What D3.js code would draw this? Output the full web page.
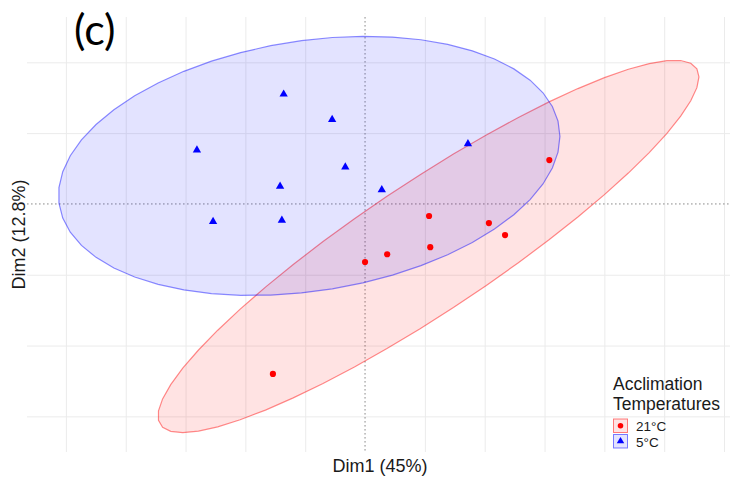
<!DOCTYPE html>
<html>
<head>
<meta charset="utf-8">
<script src="https://cdn.jsdelivr.net/npm/d3@7"></script>
<style>
  body { margin: 0; background: #fff; }
  svg { display: block; }
</style>
</head>
<body>
<div id="chart"></div>
<script>
// individuals on the first two PCA dimensions
var warmX = [0.00, 0.37, 1.09, 1.07, 2.07, 2.34, 3.08, -1.54];
var warmY = [-0.82, -0.71, -0.61, -0.17, -0.27, -0.44, 0.62, -2.40];
var coldX = [-1.36, -0.55, -2.81, -0.33, -1.42, -2.54, -1.39, 1.72, 0.28];
var coldY = [1.55, 1.19, 0.76, 0.52, 0.25, -0.25, -0.23, 0.85, 0.20];

var groups = ["21°C", "5°C"];
var groupColors = ["#ff0000", "#0000ff"];
var xGrid = [-5, -4, -3, -2, -1, 0, 1, 2, 3, 4, 5, 6];
var yGrid = [-3, -2, -1, 0, 1, 2];

var width = 730, height = 479;
var panel = {left: 27, right: 733, top: 17, bottom: 452};

var svg = d3.select("#chart").append("svg")
    .attr("width", width)
    .attr("height", height);

var x = d3.scaleLinear().domain([-5.65, 6.15]).range([panel.left, panel.right]);
var y = d3.scaleLinear().domain([-3.503, 2.64]).range([panel.bottom, panel.top]);

// grid
var g = svg.append("g");
g.append("g")
    .attr("transform", "translate(0," + panel.bottom + ")")
    .call(d3.axisBottom(x).tickValues(xGrid).tickSize(-(panel.bottom - panel.top)).tickFormat(""))
    .call(function(a) { a.select(".domain").remove(); });
g.append("g")
    .attr("transform", "translate(" + panel.left + ",0)")
    .call(d3.axisLeft(y).tickValues(yGrid).tickSize(-(panel.right - panel.left)).tickFormat(""))
    .call(function(a) { a.select(".domain").remove(); });
g.selectAll(".tick line")
    .attr("stroke", "#ebebeb")
    .attr("stroke-width", 1);
// zero lines are drawn dashed separately
g.selectAll(".tick").filter(function(d) { return d === 0; }).remove();

g.append("line")
    .attr("x1", x(0)).attr("x2", x(0))
    .attr("y1", panel.top).attr("y2", panel.bottom)
    .attr("stroke", "#8c8c8c").attr("stroke-dasharray", "1.6,2.4");
g.append("line")
    .attr("x1", panel.left).attr("x2", panel.right)
    .attr("y1", y(0)).attr("y2", y(0))
    .attr("stroke", "#8c8c8c").attr("stroke-dasharray", "1.6,2.4");

// normal-theory 95% ellipse like stat_ellipse(type = "norm")
function ellipse(xs, ys, level) {
  var n = xs.length;
  var mx = d3.mean(xs), my = d3.mean(ys);
  var a = 0, b = 0, c = 0;
  for (var i = 0; i < n; i++) {
    a += (xs[i] - mx) * (xs[i] - mx);
    b += (xs[i] - mx) * (ys[i] - my);
    c += (ys[i] - my) * (ys[i] - my);
  }
  a /= n - 1; b /= n - 1; c /= n - 1;
  var dfd = n - 1;
  var f = (dfd / 2) * (Math.pow(1 - level, -2 / dfd) - 1);
  var radius = Math.sqrt(2 * f);
  var r11 = Math.sqrt(a), r12 = b / r11, r22 = Math.sqrt(c - r12 * r12);
  var pts = [];
  for (var k = 0; k <= 51; k++) {
    var t = k * 2 * Math.PI / 51;
    pts.push([mx + radius * Math.cos(t) * r11,
              my + radius * (Math.cos(t) * r12 + Math.sin(t) * r22)]);
  }
  return pts;
}

var sets = [
  {name: groups[0], xs: warmX, ys: warmY, color: groupColors[0], shape: d3.symbolCircle},
  {name: groups[1], xs: coldX, ys: coldY, color: groupColors[1], shape: d3.symbolTriangle}
];

var line = d3.line().x(function(d) { return x(d[0]); }).y(function(d) { return y(d[1]); });

sets.forEach(function(s) {
  svg.append("path")
      .attr("d", line(ellipse(s.xs, s.ys, 0.95)) + "Z")
      .attr("fill", s.color)
      .attr("fill-opacity", 0.11)
      .attr("stroke", s.color)
      .attr("stroke-opacity", 0.45)
      .attr("stroke-width", 1.2);
});

sets.forEach(function(s) {
  svg.append("g").selectAll("path")
      .data(d3.range(s.xs.length))
      .enter().append("path")
      .attr("transform", function(i) { return "translate(" + x(s.xs[i]) + "," + y(s.ys[i]) + ")"; })
      .attr("d", d3.symbol().type(s.shape).size(30))
      .attr("fill", s.color);
});

// panel tag
svg.append("text")
    .attr("x", 74).attr("y", 45)
    .attr("font-family", "Lato, 'Open Sans', sans-serif")
    .attr("font-size", 43)
    .attr("fill", "#000")
    .text("(c)");

// axis titles
svg.append("text")
    .attr("x", (panel.left + panel.right) / 2).attr("y", 472)
    .attr("text-anchor", "middle")
    .attr("font-family", "'Liberation Sans', Arial, sans-serif")
    .attr("font-size", 18)
    .attr("fill", "#1a1a1a")
    .text("Dim1 (45%)");
svg.append("text")
    .attr("transform", "translate(25," + ((panel.top + panel.bottom) / 2) + ") rotate(-90)")
    .attr("text-anchor", "middle")
    .attr("font-family", "'Liberation Sans', Arial, sans-serif")
    .attr("font-size", 18)
    .attr("fill", "#1a1a1a")
    .text("Dim2 (12.8%)");

// legend
var legend = svg.append("g").attr("transform", "translate(613,0)");
legend.append("text").attr("x", 0).attr("y", 389.5)
    .attr("font-family", "'Liberation Sans', Arial, sans-serif")
    .attr("font-size", 17.5).attr("fill", "#1a1a1a")
    .text("Acclimation");
legend.append("text").attr("x", 0).attr("y", 409.5)
    .attr("font-family", "'Liberation Sans', Arial, sans-serif")
    .attr("font-size", 17.5).attr("fill", "#1a1a1a")
    .text("Temperatures");

var item = legend.selectAll(".item")
    .data(sets)
    .enter().append("g")
    .attr("transform", function(d, i) { return "translate(0," + (418.5 + i * 15.5) + ")"; });
item.append("rect")
    .attr("x", 0.5).attr("y", 0.5).attr("width", 14).attr("height", 13.5)
    .attr("fill", function(d) { return d.color; })
    .attr("fill-opacity", 0.11)
    .attr("stroke", function(d) { return d.color; })
    .attr("stroke-opacity", 0.5);
item.append("path")
    .attr("transform", "translate(7.5,7.2)")
    .attr("d", function(d) { return d3.symbol().type(d.shape).size(24)(); })
    .attr("fill", function(d) { return d.color; });
item.append("text")
    .attr("x", 23).attr("y", 12.5)
    .attr("font-family", "'Liberation Sans', Arial, sans-serif")
    .attr("font-size", 13.5).attr("fill", "#1a1a1a")
    .text(function(d) { return d.name; });
</script>
</body>
</html>
